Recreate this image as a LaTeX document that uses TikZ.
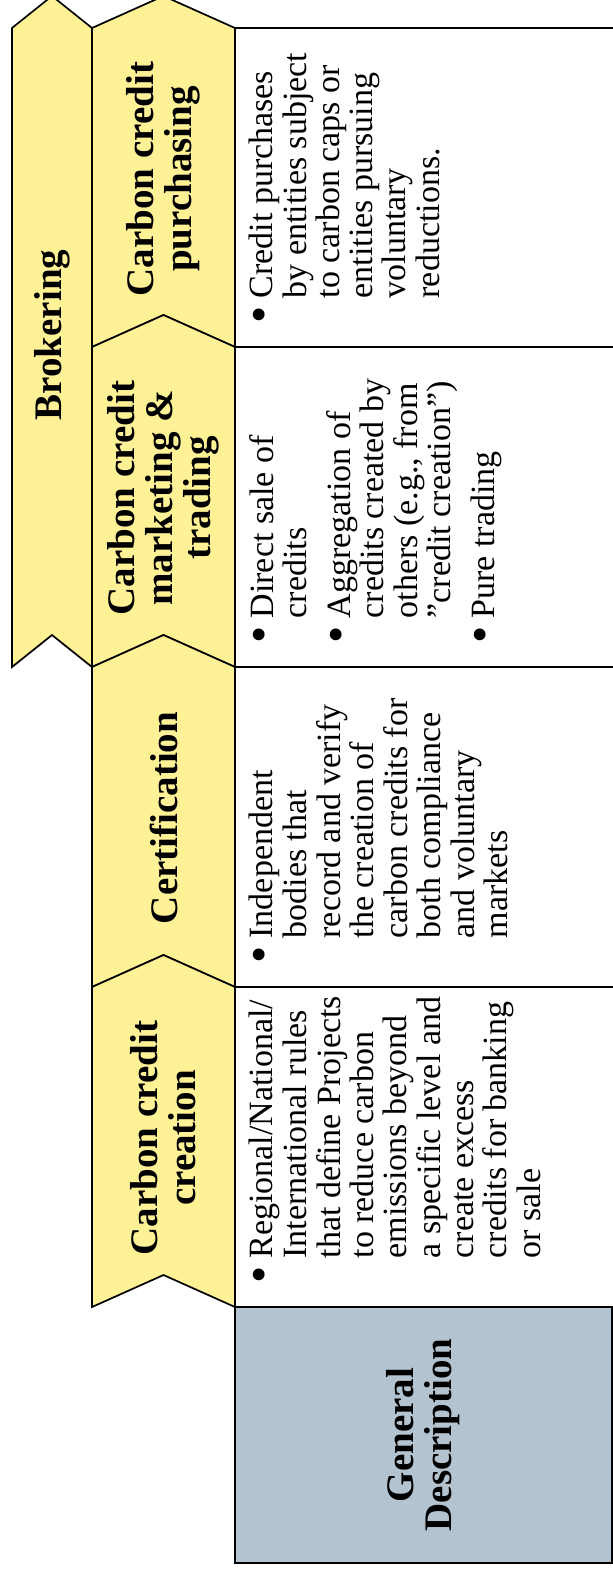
\documentclass[tikz,border=0pt]{standalone}
\usepackage{fontspec}
\setmainfont{Liberation Serif}

\definecolor{chevyellow}{RGB}{255,242,150}
\definecolor{descgrey}{RGB}{179,195,207}

\newcommand{\headfont}{\fontsize{19.5}{19}\selectfont\bfseries}
\newcommand{\bodyfont}{\fontsize{17}{16.3}\selectfont}
\newcommand{\bul}{\raisebox{-0.15ex}{\scalebox{1.45}{\textbullet}}}

\tikzset{
  chev/.style={fill=chevyellow, draw=black, line width=0.85pt},
  cell/.style={draw=black, line width=0.85pt},
  head/.style={font=\headfont, rotate=90, align=center, inner sep=0pt},
  body/.style={font=\bodyfont, rotate=90, anchor=north west, inner sep=0pt},
}

\begin{document}
\begin{tikzpicture}[x=0.5pt, y=-0.5pt]
\useasboundingbox (0,0) rectangle (613,1571);

% description cells
\foreach \yt/\yb in {28/347,347/667,667/987,987/1307}
  \draw [cell] (235,\yt) rectangle (620,\yb);
\draw [cell, fill=descgrey, line width=1pt] (235,1307) rectangle (612,1563);

% chevrons
\draw [chev] (12,28) -- (52,-4) -- (92,28) -- (92,667) -- (52,635) -- (12,667) -- cycle;
\foreach \yt/\yb in {28/347,347/667,667/987,987/1307}
  \draw [chev] (92,\yt) -- (163.5,\yt-32) -- (235,\yt) -- (235,\yb)
    -- (163.5,\yb-32) -- (92,\yb) -- cycle;

% headings
\node [head] (broker) at (52,335) {Brokering};
\node [head] (purch) at (163.5,179) {Carbon credit\\purchasing};
\node [head] (market) at (163.5,498) {Carbon credit\\marketing \&\\trading};
\node [head] (cert) at (163.5,818) {Certification};
\node [head] (create) at (163.5,1138) {Carbon credit\\creation};
\node [head] (gendesc) at (423.5,1435) {General\\Description};

% bullet texts
\node [body] (purchtxt) at (249,324) {\begin{tabular}{@{}l@{\hspace{4pt}}l@{}}
  \bul & Credit purchases\\
   & by entities subject\\
   & to carbon caps or\\
   & entities pursuing\\
   & voluntary\\
   & reductions.
\end{tabular}};

\node [body] (markettxt) at (249,644) {\begin{tabular}{@{}l@{\hspace{4pt}}l@{}}
  \bul & Direct sale of\\
   & credits\\[5pt]
  \bul & Aggregation of\\
   & credits created by\\
   & others (e.g., from\\
   & ”credit creation”)\\[5pt]
  \bul & Pure trading
\end{tabular}};

\node [body] (certtxt) at (249,964) {\begin{tabular}{@{}l@{\hspace{4pt}}l@{}}
  \bul & Independent\\
   & bodies that\\
   & record and verify\\
   & the creation of\\
   & carbon credits for\\
   & both compliance\\
   & and voluntary\\
   & markets
\end{tabular}};

\node [body] (createtxt) at (249,1284) {\begin{tabular}{@{}l@{\hspace{4pt}}l@{}}
  \bul & Regional/National/\\
   & International rules\\
   & that define Projects\\
   & to reduce carbon\\
   & emissions beyond\\
   & a specific level and\\
   & create excess\\
   & credits for banking\\
   & or sale
\end{tabular}};
\end{tikzpicture}
\end{document}
